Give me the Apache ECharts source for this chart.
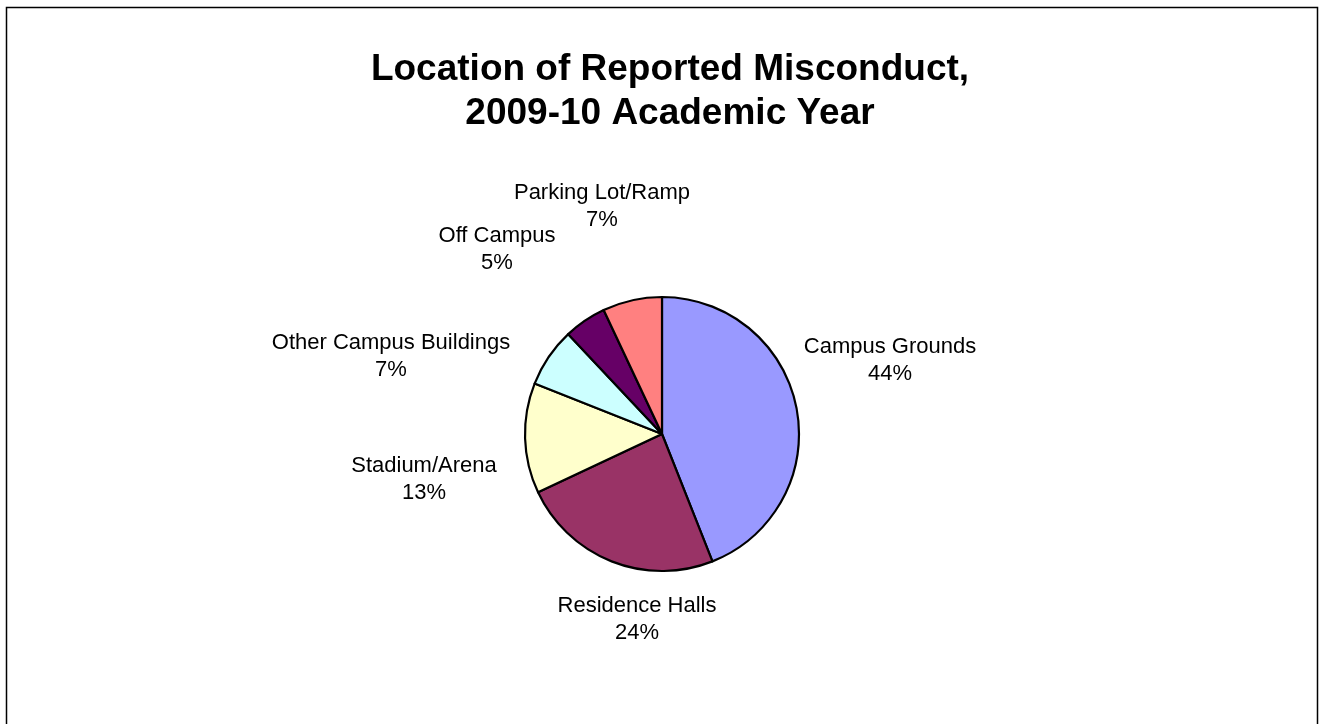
<!DOCTYPE html>
<html>
<head>
<meta charset="utf-8">
<title>Location of Reported Misconduct</title>
<script src="https://cdn.jsdelivr.net/npm/echarts@6/dist/echarts.min.js"></script>
<style>
  html, body { margin: 0; padding: 0; background: #fff; }
  #chart { width: 1320px; height: 724px; }
</style>
</head>
<body>
<div id="chart"></div>
<script>
// data
const locations = ['Campus Grounds', 'Residence Halls', 'Stadium/Arena', 'Other Campus Buildings', 'Off Campus', 'Parking Lot/Ramp']
const shares = [44, 24, 13, 7, 5, 7]
const sliceColors = ['#9999FF', '#993366', '#FFFFCC', '#CCFFFF', '#660066', '#FF8080']

// where the Excel labels sit (centre of each two-line label)
const labelPos = [[890, 360], [637, 619], [424, 479], [391, 356], [497, 249], [602, 206]]

const chart = echarts.init(document.getElementById('chart'))
chart.setOption({
  animation: false,
  title: {
    text: 'Location of Reported Misconduct,\n2009-10 Academic Year',
    left: 665,
    top: 43,
    textAlign: 'center',
    textStyle: {
      fontFamily: 'Liberation Sans, Arial, sans-serif',
      fontSize: 37,
      fontWeight: 'bold',
      lineHeight: 44,
      color: '#000'
    }
  },
  graphic: [{
    type: 'rect',
    shape: { x: 6.5, y: 7.5, width: 1311, height: 740 },
    style: { fill: 'none', stroke: '#000', lineWidth: 1.5 }
  }],
  series: [{
    type: 'pie',
    center: [662, 434],
    radius: 137,
    startAngle: 90,
    clockwise: true,
    silent: true,
    data: locations.map((name, i) => ({
      name: name,
      value: shares[i],
      itemStyle: { color: sliceColors[i] }
    })),
    itemStyle: { borderColor: '#000', borderWidth: 2.2 },
    label: {
      show: true,
      formatter: '{b}\n{c}%',
      fontFamily: 'Liberation Sans, Arial, sans-serif',
      fontSize: 22,
      lineHeight: 27,
      color: '#000',
      align: 'center'
    },
    labelLine: { show: false },
    labelLayout: function (params) {
      const p = labelPos[params.dataIndex]
      return { x: p[0], y: p[1], align: 'center', verticalAlign: 'middle' }
    }
  }]
})
</script>
</body>
</html>
